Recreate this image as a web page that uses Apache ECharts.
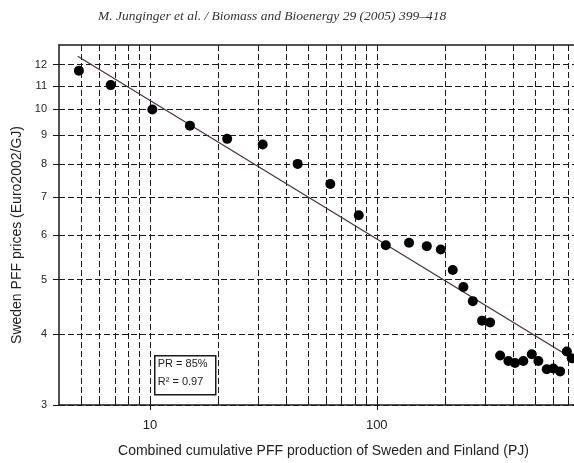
<!DOCTYPE html>
<html>
<head>
<meta charset="utf-8">
<script src="https://cdn.jsdelivr.net/npm/echarts@6.0.0/dist/echarts.min.js"></script>
<style>
  html, body { margin: 0; padding: 0; background: #fff; }
  #main { width: 574px; height: 463px; }
</style>
</head>
<body>
<div id="main"></div>
<script>
// cumulative PFF production (PJ) and price (Euro2002/GJ)
var productionPJ = [4.86, 6.71, 10.24, 15.0, 21.9, 31.4, 44.8, 62.4, 83.3, 109.6, 138.8, 166.2, 191.6, 216.3, 241, 265.2, 291.4, 316.1, 350, 380.6, 407, 443, 482.7, 516, 562, 601, 643.6, 689, 724];
var pricePerGJ = [11.71, 11.04, 10.0, 9.36, 8.87, 8.67, 8.01, 7.38, 6.50, 5.75, 5.81, 5.73, 5.65, 5.20, 4.85, 4.58, 4.23, 4.20, 3.67, 3.59, 3.56, 3.59, 3.69, 3.59, 3.47, 3.48, 3.44, 3.73, 3.63];

// experience curve (PR = 85%), its two end points
var fitX = [4.8, 741];
var fitY = [12.42, 3.61];

var xTicks = [5, 6, 7, 8, 9, 10, 20, 30, 40, 50, 60, 70, 80, 90, 100, 200, 300, 400, 500, 600, 700];
var xLabels = [10, 100];
var yTicks = [3, 4, 5, 6, 7, 8, 9, 10, 11, 12];

var points = productionPJ.map(function (x, i) { return [x, pricePerGJ[i]]; });
var fitLine = fitX.map(function (x, i) { return [x, fitY[i]]; });

var font = 'Liberation Sans, Arial, sans-serif';
var dashed = { color: '#1a1a1a', width: 1, type: [6, 3] };

var myChart = echarts.init(document.getElementById('main'));

var option = {
    animation: false,
    title: {
        text: 'M. Junginger et al. / Biomass and Bioenergy 29 (2005) 399\u2013418',
        left: 93,
        top: 4,
        textStyle: {
            fontFamily: 'Liberation Serif, DejaVu Serif, serif',
            fontStyle: 'italic',
            fontWeight: 'normal',
            fontSize: 13.5,
            color: '#333'
        }
    },
    grid: { left: 59, right: 0, top: 45, bottom: 54 },
    xAxis: [
        {
            type: 'log',
            min: 3.97,
            max: 741,
            name: 'Combined cumulative PFF production of Sweden and Finland (PJ)',
            nameLocation: 'middle',
            nameGap: 39,
            nameTextStyle: { fontFamily: font, fontSize: 14, color: '#222', padding: [0, 0, 0, 14] },
            axisLine: { show: true, lineStyle: { color: '#1a1a1a', width: 1.5 } },
            axisTick: { show: true, inside: true, length: 6, customValues: xTicks, lineStyle: { color: '#1a1a1a' } },
            axisLabel: {
                customValues: xLabels,
                margin: 14,
                fontFamily: font,
                fontSize: 13,
                color: '#222',
                formatter: function (v) { return String(Math.round(v)); }
            },
            splitLine: { show: true, lineStyle: dashed }
        },
        {
            // longer ticks at the decades, below the axis
            type: 'log',
            min: 3.97,
            max: 741,
            position: 'bottom',
            axisLine: { show: false },
            axisTick: { show: true, length: 5, customValues: xLabels, lineStyle: { color: '#1a1a1a' } },
            axisLabel: { show: false },
            splitLine: { show: false }
        },
        {
            // top frame
            type: 'log',
            min: 3.97,
            max: 741,
            position: 'top',
            axisLine: { show: true, lineStyle: { color: '#1a1a1a', width: 1.5 } },
            axisTick: { show: false },
            axisLabel: { show: false },
            splitLine: { show: false }
        }
    ],
    yAxis: {
        type: 'log',
        min: 3,
        max: 13,
        name: 'Sweden PFF prices (Euro2002/GJ)',
        nameLocation: 'middle',
        nameGap: 35,
        nameTextStyle: { fontFamily: font, fontSize: 14, color: '#222', padding: [0, 20, 0, 0] },
        axisLine: { show: true, lineStyle: { color: '#1a1a1a', width: 1.5 } },
        axisTick: { show: true, length: 6, customValues: yTicks, lineStyle: { color: '#1a1a1a' } },
        axisLabel: {
            customValues: yTicks,
            margin: 12,
            fontFamily: font,
            fontSize: 11,
            color: '#222',
            formatter: function (v) { return String(Math.round(v)); }
        },
        splitLine: { show: true, lineStyle: dashed }
    },
    graphic: [
        {
            type: 'group',
            left: 154,
            top: 355,
            children: [
                { type: 'rect', shape: { x: 0, y: 0, width: 61, height: 39 }, style: { fill: '#fff', stroke: '#1a1a1a', lineWidth: 1.5 } },
                { type: 'text', left: 3, top: 3, style: { text: 'PR = 85%', font: '11px Liberation Sans, Arial, sans-serif', fill: '#222' } },
                { type: 'text', left: 3, top: 21, style: { text: 'R\u00b2 = 0.97', font: '11px Liberation Sans, Arial, sans-serif', fill: '#222' } }
            ]
        }
    ],
    series: [
        {
            name: 'fit',
            type: 'line',
            data: fitLine,
            showSymbol: false,
            symbol: 'none',
            lineStyle: { color: '#4a3344', width: 1.2 },
            z: 3
        },
        {
            name: 'prices',
            type: 'scatter',
            data: points,
            symbol: 'circle',
            symbolSize: 10,
            itemStyle: { color: '#000', opacity: 1 },
            z: 4
        }
    ]
};

myChart.setOption(option);
</script>
</body>
</html>
